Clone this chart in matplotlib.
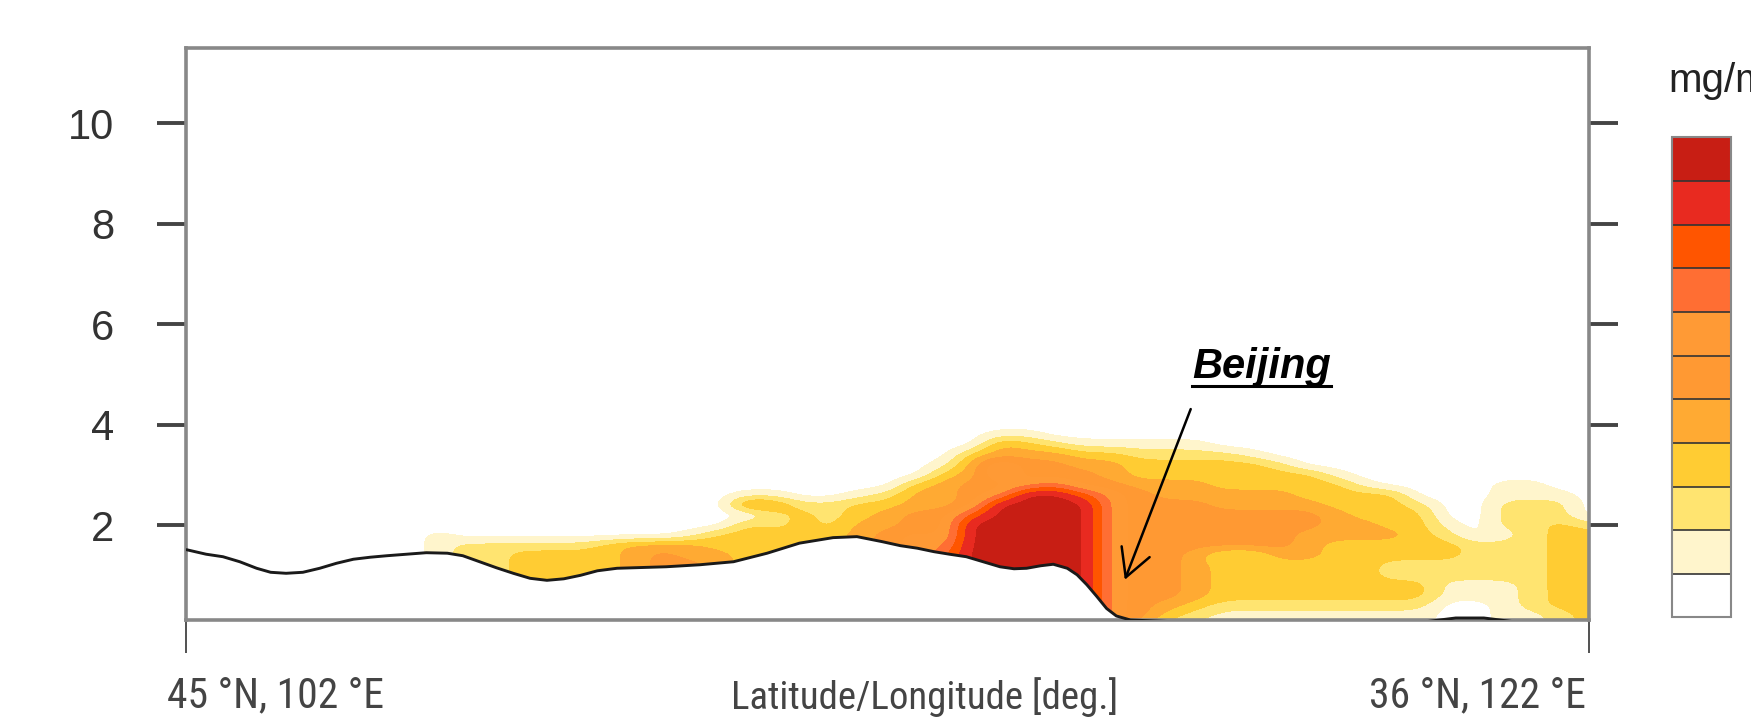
import matplotlib
matplotlib.use("Agg")
import matplotlib.pyplot as plt
import numpy as np
from matplotlib import font_manager
from matplotlib.colors import ListedColormap, BoundaryNorm
from matplotlib.lines import Line2D
from matplotlib.transforms import ScaledTranslation

# position along the cross section, % of the way from 45N,102E to 36N,122E
sect_x = np.arange(0, 101, 2)
# heights of the grid rows (km)
sect_h = np.linspace(0, 4.2, 22)

# concentration class per column, bottom row first ('a' = class 10)
pm_cols = [
    "0000000000000000000000",  # 0
    "0000000000000000000000",
    "0000000000000000000000",
    "0000000000000000000000",
    "0000000000000000000000",
    "0000000000000000000000",  # 10
    "0000000000000000000000",
    "0000000000000000000000",
    "0000000000000000000000",
    "1111111111000000000000",
    "2222222220000000000000",  # 20
    "2222222220000000000000",
    "3333333320000000000000",
    "3333333320000000000000",
    "3333333320000000000000",
    "3333333330000000000000",  # 30
    "4444444440000000000000",
    "5555555540000000000000",
    "5555555441000000000000",
    "4444444433000000000000",
    "3333333333305100000000",  # 40
    "3333333333224100000000",
    "3333333333332000000000",
    "3333333333222000000000",
    "4444444444433100000000",
    "5555555555443200000000",  # 50
    "6666666666554430000000",
    "7777777765554443100000",
    "aaaaaaaaaaa85554430000",
    "aaaaaaaaaaaaa657744100",
    "aaaaaaaaaaaaaa65543100",  # 60
    "aaaaaaaaaaaaaa75542000",
    "aaaaaaaaaaaaa855431000",
    "6666666666666654431000",
    "4555555555555543321000",
    "2345555555555443321000",  # 70
    "1234444455555443321000",
    "1123333255554433320000",
    "1123333255554433310000",
    "1123333455554433200000",
    "1123333444554333000000",  # 80
    "1123333334443331000000",
    "1123333334433310000000",
    "1123322334333300000000",
    "1123322333332000000000",
    "0001122332100000000000",  # 90
    "0001122220000000000000",
    "1111122221222110000000",
    "1122222222222110000000",
    "2233333333322100000000",
    "3333333333200000000000",  # 100
]

# terrain profile along the section (km)
terr_x = [0, 1.4, 2.6, 3.8, 5.0, 6.0, 7.1, 8.3, 9.5, 10.7, 11.9, 13.1, 14.3, 15.7,
          17.1, 18.6, 19.7, 20.9, 22.1, 23.3, 24.5, 25.7, 26.9, 28.1, 29.3, 30.7,
          34.2, 36.6, 39.0, 41.4, 43.7, 46.1, 47.8, 49.6, 50.9, 52.1, 53.3, 54.4,
          55.6, 56.8, 58.0, 59.0, 59.9, 60.9, 61.8, 62.8, 63.5, 64.2, 64.9, 65.6,
          66.3, 67.3, 70, 88.5, 90.5, 92.5, 94.5, 100]
terr_h = [1.51, 1.42, 1.37, 1.27, 1.14, 1.06, 1.04, 1.06, 1.14, 1.24, 1.32, 1.36,
          1.39, 1.42, 1.45, 1.44, 1.39, 1.27, 1.15, 1.04, 0.94, 0.90, 0.93, 1.00,
          1.09, 1.14, 1.17, 1.21, 1.27, 1.44, 1.64, 1.75, 1.77, 1.67, 1.59, 1.54,
          1.47, 1.42, 1.37, 1.27, 1.17, 1.13, 1.14, 1.19, 1.22, 1.14, 1.01, 0.81,
          0.58, 0.34, 0.19, 0.11, 0.08, 0.08, 0.15, 0.15, 0.08, 0.08]

band_colors = ['#ffffff', '#fff5cc', '#ffe470', '#ffcc33', '#ffaa33', '#ff9933',
               '#ff9a35', '#ff6e33', '#ff5500', '#e82a20', '#c81e14']

y_ticks = [2, 4, 6, 8, 10]
end_labels = ['45 °N, 102 °E', '36 °N, 122 °E']

names = {f.name for f in font_manager.fontManager.ttflist}
narrow, bottom_size = 'Liberation Sans', 26
for cand in ['Liberation Sans Narrow', 'Roboto Condensed']:
    if cand in names:
        narrow, bottom_size = cand, 30
        break
plt.rcParams['font.family'] = ['Liberation Sans', 'DejaVu Sans']

Z = np.array([[int(c, 16) for c in col] for col in pm_cols]).T
dx, dh = sect_x[1] - sect_x[0], sect_h[1] - sect_h[0]

fig = plt.figure(figsize=(17.51, 7.19), dpi=100)
ax = fig.add_axes([0.1065, 0.1377, 0.8010, 0.7955])

cmap = ListedColormap(band_colors)
norm = BoundaryNorm(np.arange(-0.5, 11, 1), cmap.N)
im = ax.imshow(Z, origin='lower', cmap=cmap, norm=norm, aspect='auto',
               interpolation='bicubic', interpolation_stage='data',
               extent=[sect_x[0] - dx / 2, sect_x[-1] + dx / 2,
                       sect_h[0] - dh / 2, sect_h[-1] + dh / 2], zorder=1)
ax.fill_between(terr_x, 0, terr_h, color='white', lw=0, zorder=2)
ax.plot(terr_x, terr_h, color='#1a1a1a', lw=2.1, zorder=3, solid_capstyle='round')

ax.set_xlim(0, 100)
ax.set_ylim(0.11, 11.5)

for s in ax.spines.values():
    s.set_color('#888888')
    s.set_linewidth(2.6)

ax.set_yticks(y_ticks)
ax.tick_params(axis='y', direction='out', length=21, width=2.8, color='#444444',
               labelsize=30, labelcolor='#333333', pad=31, left=True, right=True,
               labelright=False)
ax.set_xticks([0, 100])
ax.set_xticklabels(end_labels)
ax.tick_params(axis='x', direction='out', length=24, width=1.2, color='#333333',
               labelsize=bottom_size, labelcolor='#444444', pad=16)
for lab, ha, off in zip(ax.get_xticklabels(), ['left', 'right'], [-19, -3]):
    lab.set_fontfamily(narrow)
    lab.set_ha(ha)
    lab.set_transform(lab.get_transform() + ScaledTranslation(off / 100, 0, fig.dpi_scale_trans))

fig.text(0.528, 0.0139, 'Latitude/Longitude [deg.]', ha='center', va='baseline',
         fontsize=bottom_size - 2, family=narrow, color='#444444')

# Beijing label with arrow
bj = ax.text(71.7, 4.93, 'Beijing', fontsize=30, fontweight='bold', fontstyle='italic',
             ha='left', va='baseline', color='black', zorder=5)
ax.annotate('', xy=(66.9, 0.91), xytext=(71.6, 4.31),
            arrowprops=dict(arrowstyle='->,head_length=0.55,head_width=0.3',
                            color='black', lw=1.8, mutation_scale=36,
                            shrinkA=0, shrinkB=0), zorder=5)

# colorbar
cax = fig.add_axes([0.9549, 0.1412, 0.0337, 0.6676])
cb = fig.colorbar(im, cax=cax, drawedges=True)
cb.outline.set_edgecolor('#888888')
cb.outline.set_linewidth(1.5)
cb.dividers.set_color('#333333')
cb.dividers.set_linewidth(1.2)
cb.set_ticks([])
cb.minorticks_off()
cax.tick_params(which='both', length=0)
fig.text(1668 / 1751, 1 - 92 / 719, 'mg/m³', fontsize=29, color='#222222', va='baseline')

# underline for the label
fig.canvas.draw()
bb = bj.get_window_extent()
base_y = ax.transData.transform((71.7, 4.93))[1] - 8
p0, p1 = fig.transFigure.inverted().transform([(bb.x0, base_y), (bb.x1, base_y)])
fig.add_artist(Line2D([p0[0], p1[0]], [p0[1], p1[1]], color='black', lw=2.2,
                      transform=fig.transFigure))

fig.savefig('out.png', dpi=100)
